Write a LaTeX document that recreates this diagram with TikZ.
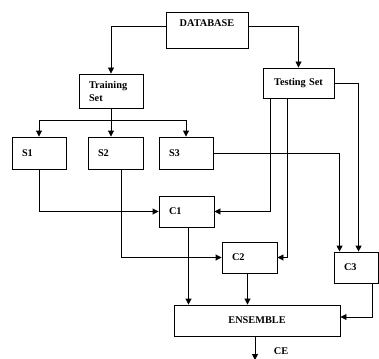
\documentclass[tikz,border=0pt]{standalone}
\usepackage{fontspec}
\setmainfont{Liberation Serif}
\usetikzlibrary{arrows.meta}
\begin{document}
\begin{tikzpicture}[x=1pt,y=-1pt,
                    box/.style = {draw,line width=0.9pt,inner xsep=10pt,inner ysep=0pt,align=left,
                                  font=\bfseries\fontsize{10.3}{13}\selectfont},
                    arrow/.style = {line width=0.9pt,-{Triangle[length=6pt,width=6pt]}}]
                    \useasboundingbox (0,0) rectangle (379,358);
                    \clip (0,0) rectangle (379,358);
                    \fill[white] (0,0) rectangle (379,358);

                    \node[box,align=center,text width=62pt,minimum height=36pt,text height=9pt,text depth=15pt] (db) at (207,30) {DATABASE};
                    \node[box,text width=44pt,minimum height=34pt] (train) at (111,91) {Training\\Set};
                    \node[box,align=center,text width=51pt,minimum height=30pt] (test) at (298.5,83) {Testing Set};

                    \node[box,text width=34pt,minimum height=32pt] (s1) at (39,153) {S1};
                    \node[box,text width=35pt,minimum height=32pt] (s2) at (115.5,153) {S2};
                    \node[box,text width=34pt,minimum height=32pt] (s3) at (186,153) {S3};

                    \node[box,text width=35pt,minimum height=31pt] (c1) at (186.5,211.5) {C1};
                    \node[box,text width=35pt,minimum height=31pt] (c2) at (249.5,257.5) {C2};
                    \node[box,text width=24.5pt,minimum height=31pt] (c3) at (356.25,267.5) {C3};

                    \node[box,align=center,text width=146pt,minimum height=31pt] (ens) at (257,320.5) {ENSEMBLE};
                    \node[font=\bfseries\fontsize{10.3}{13}\selectfont] (ce) at (281,351) {CE};
                    \coordinate (out) at (255,360);

                    \draw[arrow] ([yshift=4pt]db.west) -| (train.north);
                    \draw[arrow] ([yshift=4pt]db.east) -| (test.north);

                    \draw[line width=0.9pt] (train.south) -- ++(0,12) coordinate (split);
                    \draw[arrow] (split) -| (s1.north);
                    \draw[arrow] (split) -| (s3.north);
                    \draw[arrow] (split) -- (split |- s2.north);

                    \draw[arrow] (s1.south) |- (c1.west);
                    \draw[arrow] ([xshift=6pt]s2.south) |- (c2.west);
                    \draw[arrow] (s3.east) -| ([xshift=6pt]c3.north west);

                    \draw[arrow] ([xshift=8pt]test.south west) |- (c1.east);
                    \draw[arrow] ([xshift=25pt]test.south west) |- (c2.east);
                    \draw[arrow] (test.east) -| ([xshift=25pt]c3.north west);

                    \draw[arrow] ([xshift=2pt]c1.south) -- ([xshift=2pt]c1.south |- ens.north);
                    \draw[arrow] ([xshift=-2pt]c2.south) -- ([xshift=-2pt]c2.south |- ens.north);
                    \draw[arrow] ([xshift=39pt]c3.south west) |- ([yshift=3.5pt]ens.east);

                    \draw[arrow] ([xshift=-2pt]ens.south) -- ([xshift=-2pt]ens.south |- out);
                \end{tikzpicture}
\end{document}
